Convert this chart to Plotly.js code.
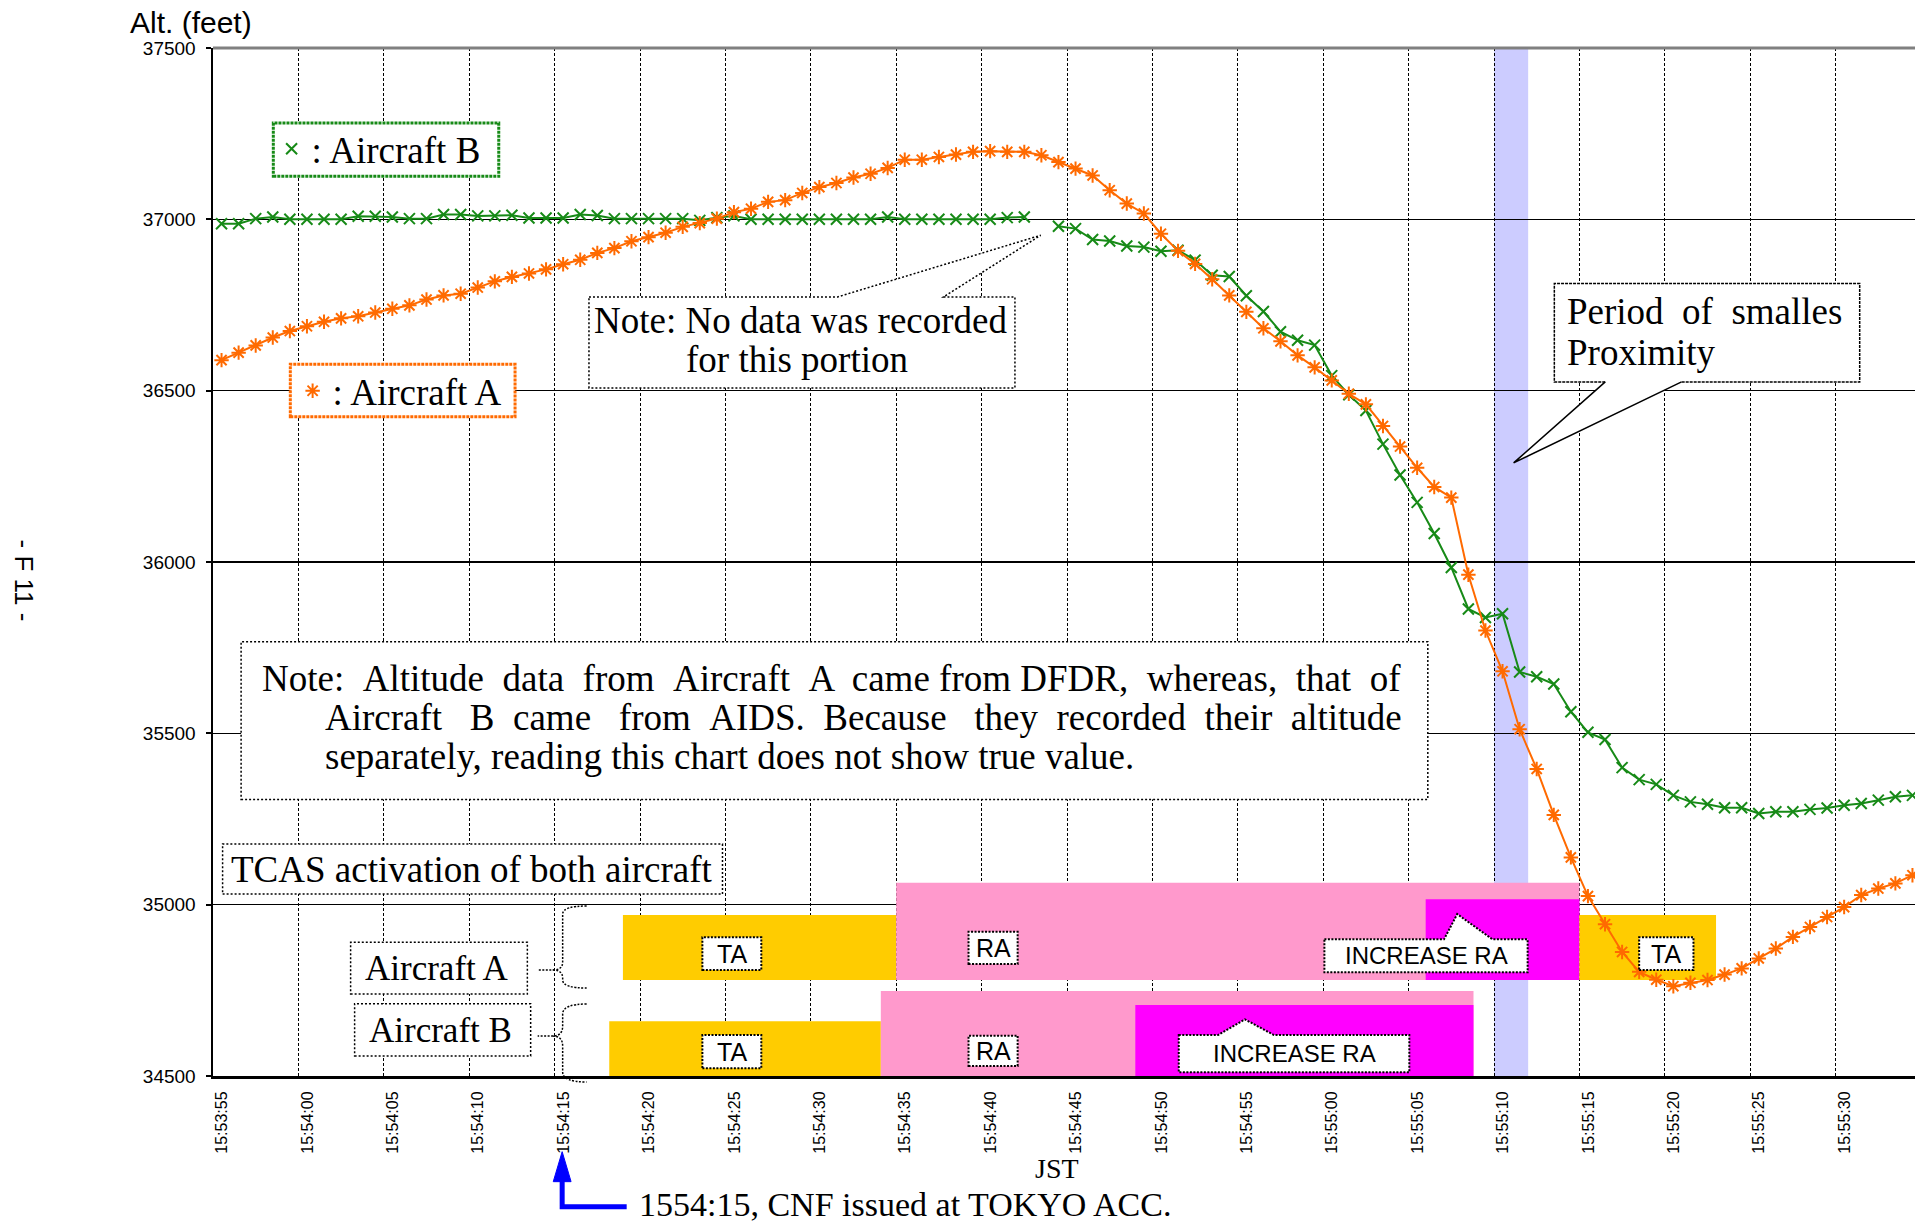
<!DOCTYPE html>
<html>
<head>
<meta charset="utf-8">
<script src="https://cdn.plot.ly/plotly-3.0.1.min.js"></script>
<style>
html,body{margin:0;padding:0;overflow:hidden;background:#fff;width:1915px;height:1225px}
#chart{width:1935px;height:1225px}
</style>
</head>
<body>
<div id="chart"></div>
<script>
// ---------------- data ----------------
const sampleTimes = [
'15:53:55.5','15:53:56.5','15:53:57.5','15:53:58.5','15:53:59.5',
'15:54:00.5','15:54:01.5','15:54:02.5','15:54:03.5','15:54:04.5','15:54:05.5','15:54:06.5','15:54:07.5','15:54:08.5','15:54:09.5',
'15:54:10.5','15:54:11.5','15:54:12.5','15:54:13.5','15:54:14.5','15:54:15.5','15:54:16.5','15:54:17.5','15:54:18.5','15:54:19.5',
'15:54:20.5','15:54:21.5','15:54:22.5','15:54:23.5','15:54:24.5','15:54:25.5','15:54:26.5','15:54:27.5','15:54:28.5','15:54:29.5',
'15:54:30.5','15:54:31.5','15:54:32.5','15:54:33.5','15:54:34.5','15:54:35.5','15:54:36.5','15:54:37.5','15:54:38.5','15:54:39.5',
'15:54:40.5','15:54:41.5','15:54:42.5','15:54:43.5','15:54:44.5','15:54:45.5','15:54:46.5','15:54:47.5','15:54:48.5','15:54:49.5',
'15:54:50.5','15:54:51.5','15:54:52.5','15:54:53.5','15:54:54.5','15:54:55.5','15:54:56.5','15:54:57.5','15:54:58.5','15:54:59.5',
'15:55:00.5','15:55:01.5','15:55:02.5','15:55:03.5','15:55:04.5','15:55:05.5','15:55:06.5','15:55:07.5','15:55:08.5','15:55:09.5',
'15:55:10.5','15:55:11.5','15:55:12.5','15:55:13.5','15:55:14.5','15:55:15.5','15:55:16.5','15:55:17.5','15:55:18.5','15:55:19.5',
'15:55:20.5','15:55:21.5','15:55:22.5','15:55:23.5','15:55:24.5','15:55:25.5','15:55:26.5','15:55:27.5','15:55:28.5','15:55:29.5',
'15:55:30.5','15:55:31.5','15:55:32.5','15:55:33.5','15:55:34.5'
];

// Aircraft A (DFDR) altitude, feet
const altitudeA = [
36589,36611,36632,36655,36674,36688,36701,36711,36717,36728,
36739,36749,36766,36778,36783,36801,36819,36832,36842,36854,
36869,36882,36902,36916,36936,36948,36961,36978,36989,37002,
37021,37031,37051,37056,37077,37094,37106,37122,37133,37150,
37174,37174,37182,37189,37197,37199,37197,37197,37187,37167,
37148,37128,37085,37046,37017,36958,36908,36870,36825,36778,
36730,36682,36644,36603,36568,36530,36491,36460,36397,36337,
36275,36219,36188,35963,35800,35681,35512,35396,35262,35138,
35025,34943,34862,34804,34781,34762,34772,34780,34796,34814,
34843,34872,34906,34935,34964,34993,35028,35047,35062,35086
];

// Aircraft B (AIDS) altitude, feet (null = no data recorded)
const altitudeB = [
36987,36987,37002,37007,37000,37000,37000,37000,37009,37009,
37007,37002,37002,37014,37014,37010,37010,37012,37004,37004,
37004,37014,37011,37002,37002,37002,37002,37002,36997,37005,
37010,37000,37000,37000,37000,37000,37000,37000,37000,37007,
37000,37000,37000,37000,37000,37000,37005,37007,null,36980,
36973,36941,36937,36922,36919,36907,36910,36881,36837,36833,
36777,36731,36672,36647,36633,36544,36488,36442,36344,36254,
36174,36083,35984,35863,35838,35849,35679,35665,35644,35563,
35503,35482,35400,35365,35351,35319,35300,35293,35283,35283,
35266,35271,35271,35278,35282,35290,35295,35305,35315,35319
];

// TCAS activation periods
const tcasAStart = ['15:54:19','15:54:35','15:55:06','15:55:15'];
const tcasAEnd   = ['15:54:35','15:55:15','15:55:15','15:55:23'];
const tcasAKind  = ['TA','RA','INCREASE RA','TA'];
const tcasBStart = ['15:54:18.2','15:54:34.1','15:54:49'];
const tcasBEnd   = ['15:54:34.1','15:55:08.8','15:55:08.8'];
const tcasBKind  = ['TA','RA','INCREASE RA'];

// period of smallest proximity
const proximityStart = '15:55:10';
const proximityEnd   = '15:55:12';

const axisStart = '15:53:55';
const axisEnd   = '15:55:35';
const altTicks  = [34500,35000,35500,36000,36500,37000,37500];

// ---------------- styling / layout helpers ----------------
const D = '2000-01-01 ';
const FW = 1935, FH = 1225;
const L = 213.4, T = 47.7, R = 1921.1, BOT = 1076;
const px = x => (x - L) / (R - L);
const py = y => (BOT - y) / (BOT - T);
const P = (x, y) => px(x) + ',' + py(y);

const GREEN = '#178A17', ORANGE = '#FF6A00';
const SERIF = 'Liberation Serif, Times New Roman, serif';
const SANS = 'Liberation Sans, Arial, sans-serif';
const kindColor = {'TA':'#FFCC00','RA':'#FF99CC','INCREASE RA':'#FF00FF'};
const rowExtentA = {'TA':[34780,34970],'RA':[34780,35064],'INCREASE RA':[34780,35016]};
const rowExtentB = {'TA':[34491,34660],'RA':[34491,34748],'INCREASE RA':[34491,34707]};

function rectPx(x0, y0, x1, y1, opt) {
  return Object.assign({type:'rect', xref:'paper', yref:'paper',
    x0:px(x0), x1:px(x1), y0:py(y1), y1:py(y0), layer:'above'}, opt);
}
function pathPx(pts, close, opt) {
  let s = pts.map((p, i) => (i ? 'L ' : 'M ') + P(p[0], p[1])).join(' ');
  if (close) s += ' Z';
  return Object.assign({type:'path', xref:'paper', yref:'paper', path:s, layer:'above'}, opt);
}
function brace(xStroke, xTip, xSpine, xEnd, yTop, yTip, yBot, r) {
  const s = `M ${P(xEnd,yTop)} Q ${P(xSpine,yTop)} ${P(xSpine,yTop+r)} L ${P(xSpine,yTip-r)} ` +
            `Q ${P(xSpine,yTip)} ${P(xTip,yTip)} L ${P(xStroke,yTip)} M ${P(xTip,yTip)} ` +
            `Q ${P(xSpine,yTip)} ${P(xSpine,yTip+r)} L ${P(xSpine,yBot-r)} Q ${P(xSpine,yBot)} ${P(xEnd,yBot)}`;
  return {type:'path', xref:'paper', yref:'paper', path:s, layer:'above',
          line:{color:'#000', width:1.5, dash:'2px,1.5px'}};
}
function txt(x, y, text, size, family, xanchor, extra) {
  return Object.assign({xref:'paper', yref:'paper', x:px(x), y:py(y), text:text, showarrow:false,
    xanchor:xanchor || 'center', yanchor:'middle', font:{family:family, size:size, color:'#000'}}, extra || {});
}
const S1 = ' \u00a0', S2 = ' \u00a0\u00a0';

const noteDot = {color:'#000', width:1.5, dash:'2px,2px'};
const labelDot = {color:'#000', width:2, dash:'2px,1.5px'};

// ---------------- shapes ----------------
const shapes = [];
shapes.push({type:'rect', xref:'x', yref:'paper', x0:D+proximityStart, x1:D+proximityEnd, y0:0, y1:1,
  fillcolor:'#CCCCFF', line:{width:0}, layer:'between'});
tcasAKind.forEach((k, i) => shapes.push({type:'rect', xref:'x', yref:'y',
  x0:D+tcasAStart[i], x1:D+tcasAEnd[i], y0:rowExtentA[k][0], y1:rowExtentA[k][1],
  fillcolor:kindColor[k], line:{width:0}, layer:'between'}));
tcasBKind.forEach((k, i) => shapes.push({type:'rect', xref:'x', yref:'y',
  x0:D+tcasBStart[i], x1:D+tcasBEnd[i], y0:rowExtentB[k][0], y1:rowExtentB[k][1],
  fillcolor:kindColor[k], line:{width:0}, layer:'between'}));

shapes.push({type:'line', xref:'paper', yref:'paper', x0:0, x1:1.02, y0:1, y1:1,
  line:{color:'#808080', width:3}, layer:'above'});

shapes.push(rectPx(273.7, 122.7, 499.1, 176, {fillcolor:'#fff', line:{color:GREEN, width:3, dash:'3px,1px'}}));
shapes.push(rectPx(290.7, 364, 515.4, 416.5, {fillcolor:'#fff', line:{color:ORANGE, width:3, dash:'3px,1px'}}));

shapes.push(pathPx([[589.3,296.7],[837.9,296.7],[1041,235],[943.8,296.7],[1015.2,296.7],[1015.2,387.7],[589.3,387.7]], true,
  {fillcolor:'#fff', line:noteDot}));

shapes.push(rectPx(241.5, 641.7, 1428, 799.3, {fillcolor:'#fff', line:noteDot}));
shapes.push(rectPx(223, 844, 722.8, 894, {fillcolor:'#fff', line:noteDot}));
shapes.push(rectPx(351, 942.3, 527.7, 994, {fillcolor:'#fff', line:noteDot}));
shapes.push(rectPx(355, 1003.7, 531, 1056, {fillcolor:'#fff', line:noteDot}));
shapes.push(brace(538, 553, 563, 587, 906, 970, 988, 8));
shapes.push(brace(538, 553, 563, 587, 1004, 1036, 1082, 10));

shapes.push(pathPx([[1554.5,283.3],[1859.8,283.3],[1859.8,381.7],[1681.7,381.7],[1513.8,462.7],[1605.4,381.7],[1554.5,381.7]], true,
  {fillcolor:'#fff', line:{width:0}}));
shapes.push(pathPx([[1605.4,381.7],[1554.5,381.7],[1554.5,283.3],[1859.8,283.3],[1859.8,381.7],[1681.7,381.7]], false,
  {line:{color:'#000', width:1.5, dash:'3px,1px'}}));
shapes.push(pathPx([[1681.7,381.7],[1513.8,462.7],[1605.4,381.7]], false, {line:{color:'#000', width:1.5}}));

shapes.push(rectPx(702.7, 937.3, 761.6, 970, {fillcolor:'#fff', line:labelDot}));
shapes.push(rectPx(968.8, 931.7, 1017.9, 964, {fillcolor:'#fff', line:labelDot}));
shapes.push(rectPx(1639.3, 937.3, 1693.6, 970, {fillcolor:'#fff', line:labelDot}));
shapes.push(rectPx(702.7, 1035, 761.6, 1068.3, {fillcolor:'#fff', line:labelDot}));
shapes.push(rectPx(968.8, 1035.7, 1017.9, 1066, {fillcolor:'#fff', line:labelDot}));
shapes.push(pathPx([[1324.6,939.3],[1444.2,939.3],[1457.4,914],[1492.6,939.3],[1527.8,939.3],[1527.8,972.3],[1324.6,972.3]], true,
  {fillcolor:'#fff', line:labelDot}));
shapes.push(pathPx([[1179,1035],[1218.3,1035],[1245.1,1019.3],[1274.1,1035],[1409.5,1035],[1409.5,1072.3],[1179,1072.3]], true,
  {fillcolor:'#fff', line:labelDot}));

shapes.push(pathPx([[627,1206.7],[562.5,1206.7],[562.5,1176]], false, {line:{color:'#0000FF', width:5}}));
shapes.push(pathPx([[553.6,1181.7],[562.5,1151.7],[571.4,1181.7]], true, {fillcolor:'#0000FF', line:{color:'#0000FF', width:1}}));

// ---------------- annotations ----------------
const noteLine1 = ['Note:','Altitude','data','from','Aircraft','A','came'].join(S1) + ' from DFDR,' + S1 + 'whereas,' + S1 + 'that' + S1 + 'of';
const noteLine2 = 'Aircraft' + S2 + 'B' + S1 + 'came' + S2 + 'from' + S1 + 'AIDS.' + S1 + 'Because' + S2 + 'they' + S1 + 'recorded' + S1 + 'their' + S1 + 'altitude';
const annotations = [
  txt(191, 22, 'Alt. (feet)', 30, SANS),
  txt(24, 580, '- F 11 -', 26, SANS, 'center', {textangle:90}),
  txt(592, 320, 'Note: No data was recorded', 37, SERIF, 'left'),
  txt(797, 359, 'for this portion', 37, SERIF),
  txt(260, 678, noteLine1, 37, SERIF, 'left'),
  txt(323.6, 717, noteLine2, 37, SERIF, 'left'),
  txt(323.6, 756, 'separately, reading this chart does not show true value.', 37, SERIF, 'left'),
  txt(472, 869, 'TCAS activation of both aircraft', 37, SERIF),
  txt(437, 968, 'Aircraft A', 35, SERIF),
  txt(441, 1030, 'Aircraft B', 35, SERIF),
  txt(1565, 311, 'Period\u00a0 of\u00a0 smalles', 37, SERIF, 'left'),
  txt(1565, 352, 'Proximity', 37, SERIF, 'left'),
  txt(732.2, 953.7, 'TA', 25, SANS),
  txt(993.4, 947.9, 'RA', 25, SANS),
  txt(1666.5, 953.7, 'TA', 25, SANS),
  txt(732.2, 1051.7, 'TA', 25, SANS),
  txt(993.4, 1050.9, 'RA', 25, SANS),
  txt(1426.2, 955.8, 'INCREASE RA', 24, SANS),
  txt(1294.3, 1053.7, 'INCREASE RA', 24, SANS),
  txt(1057, 1169, 'JST', 28, SERIF),
  txt(637.5, 1205, '1554:15, CNF issued at TOKYO ACC.', 34, SERIF, 'left')
];

// ---------------- traces ----------------
const times = sampleTimes.map(t => D + t);
const mB = {symbol:'x-thin-open', size:11, color:GREEN, line:{color:GREEN, width:2}};
const mA = {symbol:'asterisk-open', size:12, color:ORANGE, line:{color:ORANGE, width:2}};
const traces = [
  {x:times, y:altitudeB, type:'scatter', mode:'lines+markers', connectgaps:false, showlegend:false,
   line:{color:GREEN, width:2}, marker:mB},
  {x:times, y:altitudeA, type:'scatter', mode:'lines+markers', showlegend:false,
   line:{color:ORANGE, width:2}, marker:mA},
  {x:[null], y:[null], type:'scatter', mode:'markers', name:':\u2009Aircraft B', legend:'legend', showlegend:true, marker:mB},
  {x:[null], y:[null], type:'scatter', mode:'markers', name:':\u2009Aircraft A', legend:'legend2', showlegend:true, marker:mA}
];

const legendBase = {xref:'paper', yref:'paper', xanchor:'left', yanchor:'middle', bgcolor:'rgba(0,0,0,0)',
  borderwidth:0, font:{family:SERIF, size:37, color:'#000'}, itemclick:false, itemdoubleclick:false};

const layout = {
  width:FW, height:FH,
  margin:{l:L, r:FW - R, t:T, b:FH - BOT, pad:0},
  paper_bgcolor:'#fff', plot_bgcolor:'#fff',
  showlegend:true,
  legend:Object.assign({}, legendBase, {x:px(272), y:py(149)}),
  legend2:Object.assign({}, legendBase, {x:px(293), y:py(391)}),
  xaxis:{type:'date', range:[D+axisStart, D+axisEnd], tick0:D+axisStart, dtick:5000,
    tickformat:'%H:%M:%S', tickangle:-90,
    tickfont:{family:SANS, size:16, color:'#000'},
    showgrid:true, gridcolor:'#000', gridwidth:1, griddash:'3px,2px',
    showline:true, linecolor:'#000', linewidth:3, ticks:'', ticklabelstandoff:6, ticklabelshift:9,
    zeroline:false, fixedrange:true},
  yaxis:{range:[34500,37500], tickmode:'array', tickvals:altTicks, ticktext:altTicks.map(String),
    tickfont:{family:SANS, size:19, color:'#000'},
    showgrid:true, gridcolor:'#000', gridwidth:1.5,
    showline:true, linecolor:'#000', linewidth:2.5, ticks:'outside', ticklen:5, tickcolor:'#000', tickwidth:2,
    ticklabelstandoff:6, zeroline:false, fixedrange:true},
  shapes:shapes,
  annotations:annotations
};

Plotly.newPlot('chart', traces, layout, {displayModeBar:false, staticPlot:true});
</script>
</body>
</html>
